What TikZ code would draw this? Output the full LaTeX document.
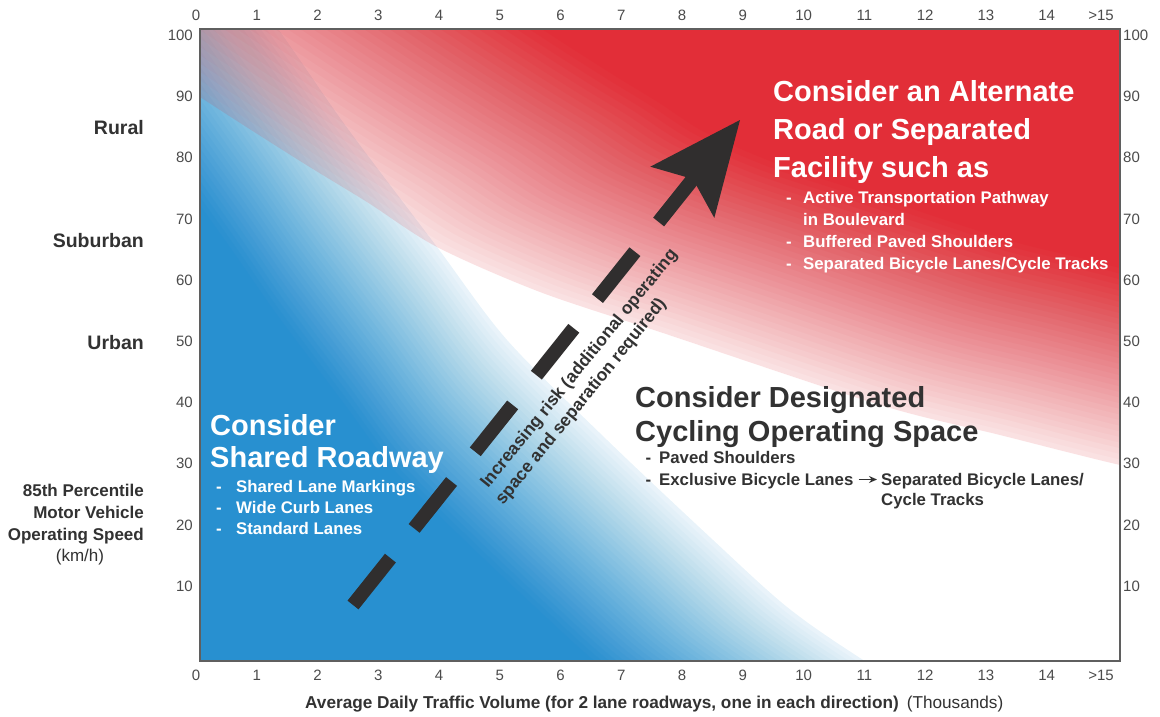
\documentclass[tikz,border=0pt]{standalone}
\usepackage{fontspec}
\setmainfont{Liberation Sans}
\usetikzlibrary{calc,arrows.meta}
\definecolor{blueC}{RGB}{40,144,208}
\definecolor{redC}{RGB}{226,46,56}
\definecolor{darkT}{RGB}{50,50,50}
\definecolor{axisT}{RGB}{75,75,75}
\definecolor{frameC}{RGB}{95,95,95}
\definecolor{arrowC}{RGB}{48,46,46}
\tikzset{
  axnum/.style={font=\fontsize{15}{18}\selectfont, text=axisT, inner sep=0pt},
  catlabel/.style={font=\fontsize{19.5}{22}\selectfont\bfseries, text=darkT, inner sep=0pt, anchor=base east},
  sidetitle/.style={font=\fontsize{17}{20}\selectfont\bfseries, text=darkT, inner sep=0pt, anchor=base east},
  bigtitle/.style={font=\fontsize{29}{34}\selectfont\bfseries, inner sep=0pt, anchor=base west},
  bulletline/.style={font=\fontsize{16.8}{20}\selectfont\bfseries, inner sep=0pt, anchor=base west},
  risktext/.style={font=\fontsize{17.5}{21}\selectfont\bfseries, text=darkT, inner sep=0pt, anchor=base west, rotate=51},
  dashseg/.style={line width=14pt, draw=arrowC, dash pattern=on 60pt off 38pt},
  smallarr/.style={-{Stealth[length=8pt,width=7pt]}, line width=1.4pt, draw=darkT},
}
\begin{document}
\begin{tikzpicture}[x=1pt,y=-1pt]
\useasboundingbox (0,0) rectangle (1160,717);
\fill[white] (0,0) rectangle (1160,717);

\begin{scope}
  \clip (200,29) rectangle (1120,661);
  % blue region, fading towards its curved edge
  \foreach \k in {1,...,36}{
    \pgfmathsetmacro\tt{(\k-1)/35}
    \pgfmathsetmacro\ff{1-0.28*\tt}
    \pgfmathsetmacro\ob{ifthenelse(\k==1,0,0.1+0.9*(\k-2)/35)}
    \pgfmathsetmacro\oc{0.1+0.9*\tt}
    \pgfmathsetmacro\al{(\oc-\ob)/(1-\ob)}
    \fill[blueC, fill opacity=\al, shift={(100,800)}, scale=\ff, shift={(-100,-800)}]
      plot[smooth] coordinates {(100,-220) (278,29) (345,125) (437,247) (507,340) (607,440) (713,540) (787,607) (860,658) (1000,745)}
      -- (1000,1300) -- (-700,1300) -- (-700,-220) -- cycle;
  }
  % red region, fading towards its curved edge
  \foreach \k in {1,...,36}{
    \pgfmathsetmacro\tt{(\k-1)/35}
    \pgfmathsetmacro\ff{1-0.33*\tt}
    \pgfmathsetmacro\ob{ifthenelse(\k==1,0,0.14+0.86*(\k-2)/35)}
    \pgfmathsetmacro\oc{0.14+0.86*\tt}
    \pgfmathsetmacro\al{(\oc-\ob)/(1-\ob)}
    \fill[redC, fill opacity=\al, shift={(1250,-100)}, scale=\ff, shift={(-1250,100)}]
      plot[smooth] coordinates {(0,-35) (200,97) (300,161) (367,202) (437,247) (540,292) (663,333) (880,405) (1000,435) (1120,465) (1300,505)}
      -- (1300,-700) -- (0,-700) -- cycle;
  }
\end{scope}
\draw[frameC, line width=1.4pt] (200,29) rectangle (1120,661);

% axis numbers
\foreach \i in {0,...,14}{
  \node[axnum, anchor=base] (tx\i) at ({196+60.76*\i},21) {\i};
  \node[axnum, anchor=base] (bx\i) at ({196+60.76*\i},680) {\i};
}
\node[axnum, anchor=base] (tx15) at (1101,21) {>15};
\node[axnum, anchor=base] (bx15) at (1101,680) {>15};
\foreach \v in {10,20,...,100}{
  \pgfmathsetmacro\yy{40.5+(100-\v)*6.12}
  \node[axnum, anchor=base east] (ly\v) at (193,\yy) {\v};
  \node[axnum, anchor=base west] (ry\v) at (1123,\yy) {\v};
}

% left labels
\node[catlabel] (rural) at (144,135) {Rural};
\node[catlabel] (suburban) at (144,247) {Suburban};
\node[catlabel] (urban) at (144,349) {Urban};
\node[sidetitle] (yt1) at (144,496) {85th Percentile};
\node[sidetitle] (yt2) at (144,518) {Motor Vehicle};
\node[sidetitle] (yt3) at (144,540) {Operating Speed};
\node[font=\fontsize{17}{20}\selectfont, text=darkT, inner sep=0pt, anchor=base] (yt4) at (80,561) {(km/h)};

% bottom title
\node[font=\fontsize{17.2}{20}\selectfont, text=darkT, inner sep=0pt, anchor=base west] (xt) at (305,708)
  {\bfseries Average Daily Traffic Volume (for 2 lane roadways, one in each direction)\mdseries\hspace{8pt}(Thousands)};

% red panel text
\node[bigtitle, text=white] (r1) at (773,102) {Consider an Alternate};
\node[bigtitle, text=white] (r2) at (773,139.5) {Road or Separated};
\node[bigtitle, text=white] (r3) at (773,177) {Facility such as};
\node[bulletline, text=white] (rb1) at (786,203) {-\hspace{11.4pt}Active Transportation Pathway};
\node[bulletline, text=white] (rb1b) at (803,225) {in Boulevard};
\node[bulletline, text=white] (rb2) at (786,247) {-\hspace{11.4pt}Buffered Paved Shoulders};
\node[bulletline, text=white] (rb3) at (786,269) {-\hspace{11.4pt}Separated Bicycle Lanes/Cycle Tracks};

% middle text
\node[bigtitle, text=darkT] (m1) at (635,407) {Consider Designated};
\node[bigtitle, text=darkT] (m2) at (635,441) {Cycling Operating Space};
\node[bulletline, text=darkT] (mb1) at (645.5,463) {-\hspace{7.9pt}Paved Shoulders};
\node[bulletline, text=darkT] (mb2) at (645.5,485) {-\hspace{7.9pt}Exclusive Bicycle Lanes};
\node[bulletline, text=darkT] (mb3) at (881,485) {Separated Bicycle Lanes/};
\node[bulletline, text=darkT] (mb4) at (881,505) {Cycle Tracks};
\draw[smallarr] ([shift={(5,-5.5)}]mb2.base east) -- ([shift={(-4,-5.5)}]mb3.base west);

% blue panel text
\node[bigtitle, text=white] (b1) at (210,435) {Consider};
\node[bigtitle, text=white] (b2) at (210,467) {Shared Roadway};
\node[bulletline, text=white] (bb1) at (216,492) {-\hspace{14.4pt}Shared Lane Markings};
\node[bulletline, text=white] (bb2) at (216,513) {-\hspace{14.4pt}Wide Curb Lanes};
\node[bulletline, text=white] (bb3) at (216,534) {-\hspace{14.4pt}Standard Lanes};

% dashed risk arrow
\coordinate (as) at (353,605);
\coordinate (at) at (740,120);
\draw[dashseg] (as) -- ($(as)!0.883!(at)$);
\fill[arrowC] (at) -- (650.3,166.7) -- (692.9,179) -- (714.3,217.9) -- cycle;
\node[risktext] (k1) at (488,489) {Increasing risk (additional operating};
\node[risktext] (k2) at (503,506) {space and separation required)};
\end{tikzpicture}
\end{document}
